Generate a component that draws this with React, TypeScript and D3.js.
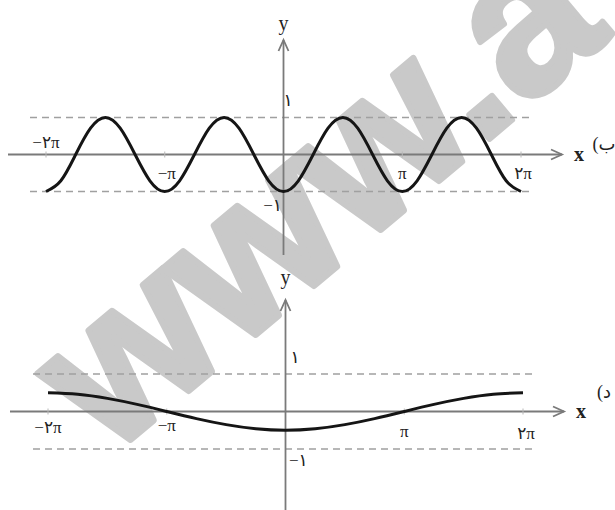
import React from "react";
import * as d3 from "d3";

// x positions are in multiples of π
const tickPositions = [-2, -1, 1, 2];
const tickLabels = ["−۲π", "−π", "π", "۲π"];

// (ب) y = sampled every π/8 over [−2π, 2π]
const topXs = [
  -2, -1.875, -1.75, -1.625, -1.5, -1.375, -1.25, -1.125,
  -1, -0.875, -0.75, -0.625, -0.5, -0.375, -0.25, -0.125,
  0, 0.125, 0.25, 0.375, 0.5, 0.625, 0.75, 0.875,
  1, 1.125, 1.25, 1.375, 1.5, 1.625, 1.75, 1.875, 2,
];
const topYs = [
  -1, -0.71, 0, 0.71, 1, 0.71, 0, -0.71,
  -1, -0.71, 0, 0.71, 1, 0.71, 0, -0.71,
  -1, -0.71, 0, 0.71, 1, 0.71, 0, -0.71,
  -1, -0.71, 0, 0.71, 1, 0.71, 0, -0.71, -1,
];

// (د) y = sampled every π/4 over [−2π, 2π]
const bottomXs = [
  -2, -1.75, -1.5, -1.25, -1, -0.75, -0.5, -0.25,
  0, 0.25, 0.5, 0.75, 1, 1.25, 1.5, 1.75, 2,
];
const bottomYs = [
  0.5, 0.46, 0.35, 0.19, 0, -0.19, -0.35, -0.46,
  -0.5, -0.46, -0.35, -0.19, 0, 0.19, 0.35, 0.46, 0.5,
];

const serif = "'Liberation Serif', 'DejaVu Sans', serif";
const axisColor = "#7a7a7a";
const dashColor = "#a0a0a0";

type PanelProps = {
  xs: number[];
  ys: number[];
  xRange: [number, number];
  y0: number;
  unit: number;
  axisLeft: number;
  axisRight: number;
  yTop: number;
  yBottom: number;
  dashLeft: number;
  dashRight: number;
  yLabelY: number;
  tag: string;
  tagY: number;
  labelOffsets: { dx: number; dy: number }[];
  oneLabel: { x: number; y: number; anchor: string };
  minusOneLabel: { x: number; y: number; anchor: string };
};

function Panel(p: PanelProps) {
  const x = d3.scaleLinear().domain([-2, 2]).range(p.xRange);
  const y = d3.scaleLinear().domain([-1, 1]).range([p.y0 + p.unit, p.y0 - p.unit]);
  const xAxisX = x(0);
  const line = d3
    .line<number>()
    .x((_, i) => x(p.xs[i]))
    .y((d) => y(d))
    .curve(d3.curveNatural);

  const arrowR = `M${p.axisRight - 11},${y(0) - 5} L${p.axisRight},${y(0)} L${p.axisRight - 11},${y(0) + 5}`;
  const arrowT = `M${xAxisX - 5},${p.yTop + 11} L${xAxisX},${p.yTop} L${xAxisX + 5},${p.yTop + 11}`;

  return (
    <g>
      {[1, -1].map((v) => (
        <line
          key={v}
          x1={p.dashLeft}
          x2={p.dashRight}
          y1={y(v)}
          y2={y(v)}
          stroke={dashColor}
          strokeWidth={1.6}
          strokeDasharray="7,5"
        />
      ))}
      <line x1={p.axisLeft} x2={p.axisRight} y1={y(0)} y2={y(0)} stroke={axisColor} strokeWidth={1.8} />
      <path d={arrowR} fill="none" stroke={axisColor} strokeWidth={1.8} />
      <line x1={xAxisX} x2={xAxisX} y1={p.yTop} y2={p.yBottom} stroke={axisColor} strokeWidth={1.8} />
      <path d={arrowT} fill="none" stroke={axisColor} strokeWidth={1.8} />
      {tickPositions.map((t) => (
        <line key={t} x1={x(t)} x2={x(t)} y1={y(0) - 3} y2={y(0) + 3} stroke="#b8b8b8" strokeWidth={1} />
      ))}
      <path d={line(p.ys) ?? ""} fill="none" stroke="#151515" strokeWidth={3} />
      {tickLabels.map((t, i) => (
        <text
          key={t}
          x={x(tickPositions[i]) + p.labelOffsets[i].dx}
          y={y(0) + p.labelOffsets[i].dy}
          textAnchor="middle"
          fontFamily={serif}
          fontSize={17}
          fill="#222"
        >
          {t}
        </text>
      ))}
      <text x={p.oneLabel.x} y={p.oneLabel.y} textAnchor={p.oneLabel.anchor as any} fontFamily={serif} fontSize={17} fill="#222">
        ۱
      </text>
      <text x={p.minusOneLabel.x} y={p.minusOneLabel.y} textAnchor={p.minusOneLabel.anchor as any} fontFamily={serif} fontSize={17} fill="#222">
        −۱
      </text>
      <text x={xAxisX} y={p.yLabelY} textAnchor="middle" fontFamily={serif} fontSize={20} fill="#222">
        y
      </text>
      <text x={p.axisRight + 17} y={y(0) + 6} textAnchor="middle" fontFamily={serif} fontSize={20} fontWeight="bold" fill="#222">
        x
      </text>
      <text x={604} y={p.tagY} textAnchor="middle" direction="rtl" fontFamily={serif} fontSize={18} fill="#222">
        {p.tag}
      </text>
    </g>
  );
}

export default function App() {
  return (
    <svg
      width={615}
      height={510}
      style={{ position: "absolute", left: 0, top: 0, background: "#fff" }}
    >
      <text
        transform="translate(109,458) rotate(-40)"
        fontFamily="'Liberation Sans', Arial, sans-serif"
        fontWeight="bold"
        fontSize={210}
        fill="#c9c9c9"
        stroke="#c9c9c9"
        strokeWidth={6}
        strokeLinejoin="round"
      >
        www.a
      </text>
      <Panel
        xs={topXs}
        ys={topYs}
        xRange={[46, 521]}
        y0={154.5}
        unit={37}
        axisLeft={8}
        axisRight={562}
        yTop={40}
        yBottom={255}
        dashLeft={30}
        dashRight={533}
        yLabelY={30}
        tag="ب)"
        tagY={150}
        labelOffsets={[
          { dx: 0, dy: -7 },
          { dx: 2, dy: 24 },
          { dx: 0, dy: 24 },
          { dx: 2, dy: 24 },
        ]}
        oneLabel={{ x: 288, y: 106, anchor: "middle" }}
        minusOneLabel={{ x: 282, y: 211, anchor: "end" }}
      />
      <Panel
        xs={bottomXs}
        ys={bottomYs}
        xRange={[48, 523]}
        y0={411.5}
        unit={37.5}
        axisLeft={10}
        axisRight={564}
        yTop={300}
        yBottom={510}
        dashLeft={33}
        dashRight={535}
        yLabelY={284}
        tag="د)"
        tagY={398}
        labelOffsets={[
          { dx: 0, dy: 21 },
          { dx: 0, dy: 19 },
          { dx: 0, dy: 25 },
          { dx: 3, dy: 27 },
        ]}
        oneLabel={{ x: 295, y: 363, anchor: "middle" }}
        minusOneLabel={{ x: 289, y: 466, anchor: "start" }}
      />
    </svg>
  );
}
